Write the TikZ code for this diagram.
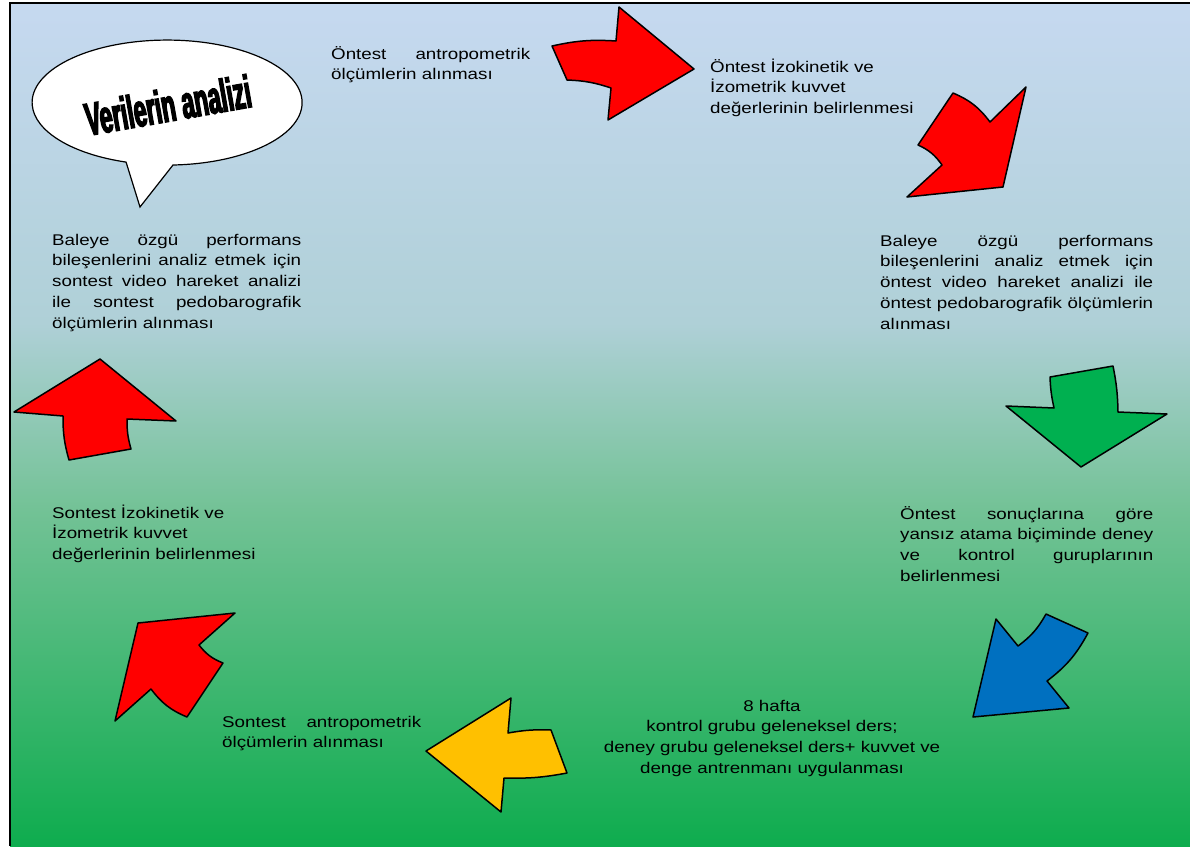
\documentclass[tikz,border=0pt]{standalone}
\usepackage{fontspec}
\setmainfont{Liberation Sans}[FakeStretch=1.21]
\newfontfamily\bubblefont{Liberation Sans}[FakeStretch=0.5,FakeBold=3]
\usepackage{tikz}
\definecolor{arrowRed}{RGB}{255, 0, 0}
\definecolor{arrowGreen}{RGB}{0, 176, 80}
\definecolor{arrowBlue}{RGB}{0, 112, 192}
\definecolor{arrowYellow}{RGB}{255, 192, 0}
\definecolor{bgTop}{RGB}{198, 217, 240}
\definecolor{bgMid}{RGB}{175, 208, 215}
\definecolor{bgLow}{RGB}{115, 194, 150}
\definecolor{bgBot}{RGB}{14, 172, 78}
\pgfdeclareverticalshading{bgfade}{100bp}{color(0bp)=(bgBot); color(25bp)=(bgBot); color(45bp)=(bgLow); color(56bp)=(bgMid); color(75bp)=(bgTop); color(100bp)=(bgTop)}
\newcommand{\jline}[2]{\makebox[#1][s]{#2}}

\begin{document}
\begin{tikzpicture}[
    x=1pt, y=-1pt,
    note/.style={font=\fontsize{15.5}{20.8}\selectfont, inner sep=0pt, anchor=north west, align=left, text=black},
    blockarrow/.style={draw=black, line width=1.5pt, line join=round},
    bubble/.style={draw=black, fill=white, line width=1.2pt}
]
    \useasboundingbox (0,0) rectangle (1190,846);
    \fill[shading=bgfade] (10,3) rectangle (1190,846);
    \draw[line width=2pt] (1190,3) -- (10,3) -- (10,846);

    % speech bubble
    \draw[bubble] (173,165) arc[start angle=87.5, end angle=-252.3, x radius=135, y radius=62.5] -- (140,207) -- cycle;
    \node[rotate=10, font=\bubblefont\bfseries\fontsize{46}{46}\selectfont] (analysis) at (168,105) {Verilerin analizi};

    % arrows
    \draw[blockarrow, fill=arrowRed] (552,46) to[bend left=8] (616,41) -- (619,7) -- (694,69) -- (608,120) -- (611,88) to[bend right=8] (567,80) -- cycle;
    \draw[blockarrow, fill=arrowRed] (953,93) to[bend left=15] (990,122) -- (1026,87) -- (1003,187) -- (907,197) -- (942,165) to[bend right=15] (918,145) -- cycle;
    \draw[blockarrow, fill=arrowGreen] (1113,366) to[bend left=5] (1118,412) -- (1167,414) -- (1081,467) -- (1006,406) -- (1054,408) to[bend left=5] (1050,377) -- cycle;
    \draw[blockarrow, fill=arrowBlue] (1088,633) to[bend left=12] (1047,681) -- (1069,708) -- (973,717) -- (996,619) -- (1018,646) to[bend right=12] (1046,614) -- cycle;
    \draw[blockarrow, fill=arrowYellow] (551,730) -- (567,773) to[bend left=6] (504,778) -- (501,812) -- (426,751) -- (511,698) -- (508,733) to[bend left=6] cycle;
    \draw[blockarrow, fill=arrowRed] (138,623) -- (235,613) -- (199,645) to[bend right=15] (223,663) -- (187,717) to[bend left=15] (151,689) -- (115,721) -- cycle;
    \draw[blockarrow, fill=arrowRed] (100,359) -- (176,421) -- (127,419) to[bend right=8] (131,449) -- (69,460) to[bend left=8] (63,416) -- (14,412) -- cycle;

    % texts
    \node[note] (preAnthro) at (331,44.4) {\jline{199pt}{\strut Öntest antropometrik}\\ölçümlerin alınması};
    \node[note] (preStrength) at (710,57.4) {\strut Öntest İzokinetik ve\\İzometrik kuvvet\\değerlerinin belirlenmesi};
    \node[note] (preVideo) at (880,231.4) {\jline{273pt}{\strut Baleye özgü performans}\\\jline{273pt}{bileşenlerini analiz etmek için}\\\jline{273pt}{öntest video hareket analizi ile}\\\jline{273pt}{öntest pedobarografik ölçümlerin}\\alınması};
    \node[note] (grouping) at (900,504.4) {\jline{253pt}{\strut Öntest sonuçlarına göre}\\\jline{253pt}{yansız atama biçiminde deney}\\\jline{253pt}{ve kontrol guruplarının}\\belirlenmesi};
    \node[note, anchor=north, align=center] (training) at (772,696.4) {\strut 8 hafta\\kontrol grubu geleneksel ders;\\deney grubu geleneksel ders+ kuvvet ve\\denge antrenmanı uygulanması};
    \node[note] (postAnthro) at (222,712.4) {\jline{199pt}{\strut Sontest antropometrik}\\ölçümlerin alınması};
    \node[note] (postStrength) at (52,503.4) {\strut Sontest İzokinetik ve\\İzometrik kuvvet\\değerlerinin belirlenmesi};
    \node[note] (postVideo) at (52,230.4) {\jline{249pt}{\strut Baleye özgü performans}\\\jline{249pt}{bileşenlerini analiz etmek için}\\\jline{249pt}{sontest video hareket analizi}\\\jline{249pt}{ile sontest pedobarografik}\\ölçümlerin alınması};
\end{tikzpicture}
\end{document}
